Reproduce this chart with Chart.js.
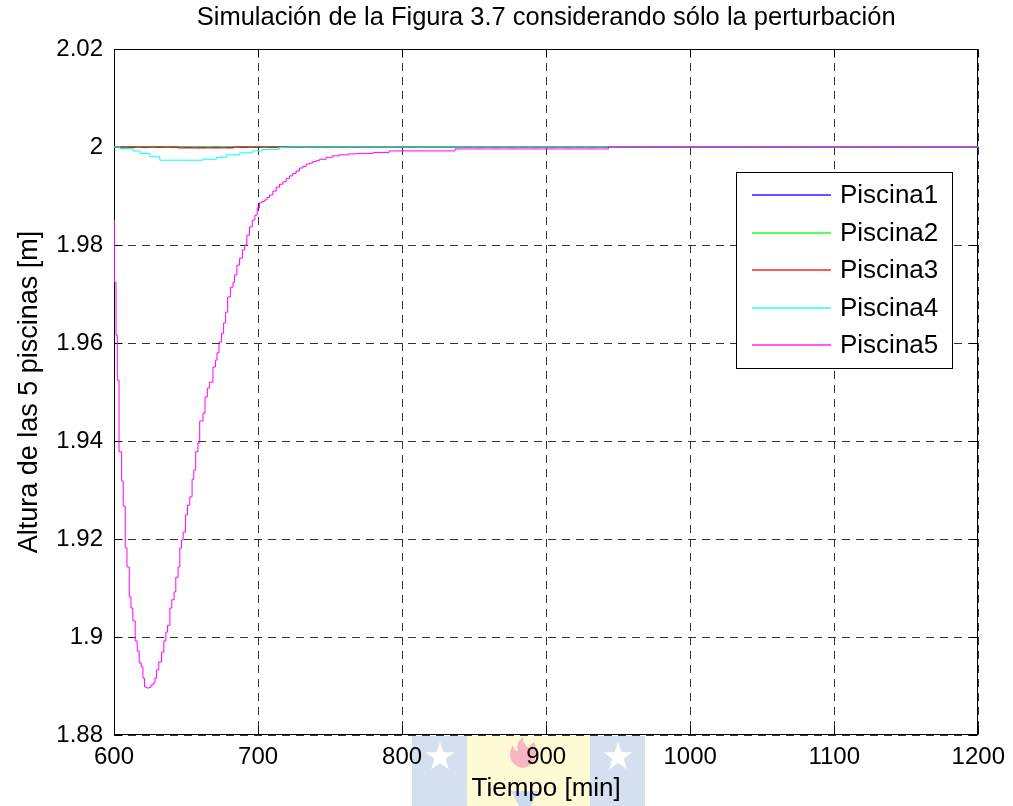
<!DOCTYPE html>
<html>
<head>
<meta charset="utf-8">
<script src="https://cdn.jsdelivr.net/npm/chart.js@4.4.0/dist/chart.umd.min.js"></script>
<style>
  html, body { margin: 0; padding: 0; background: #fff; }
  canvas { display: block; }
</style>
</head>
<body>
<canvas id="chartCanvas" width="1013" height="806"></canvas>
<script>
// nombres, colores y ejes
const seriesNames = ['Piscina1', 'Piscina2', 'Piscina3', 'Piscina4', 'Piscina5'];
const seriesColors = ['#0000ff', '#00ff00', '#ff0000', '#00ffff', '#ff00ff'];
const xTicks = [600, 700, 800, 900, 1000, 1100, 1200];
const yTicks = [1.88, 1.9, 1.92, 1.94, 1.96, 1.98, 2, 2.02];
const yTickLabels = ['1.88', '1.9', '1.92', '1.94', '1.96', '1.98', '2', '2.02'];

// tiempos [min] y alturas [m] (escalones)
const timeP1 = [600, 1200];
const valP1 = [2.0, 2.0];

const timeP2 = [600, 1200];
const valP2 = [2.0, 2.0];

const timeP3 = [600, 644.5, 683.0, 1200];
const valP3 = [2.0, 1.9998, 2.0, 2.0];

const timeP4 = [600, 604.2, 613.1, 618.0, 624.9, 631.8, 659.5, 661.6, 671.1, 678.0, 687.2, 696.2, 703.1, 714.9, 719.5, 1200];
const valP4 = [2.0, 1.9997, 1.9992, 1.9987, 1.9980, 1.9973, 1.9973, 1.9975, 1.9979, 1.9984, 1.9988, 1.9992, 1.9995, 1.9999, 2.0, 2.0];

const timeP5 = [600, 600.3, 601.4, 602.3, 603.5, 605.3, 606.4, 607.8, 609.0, 610.6, 611.8, 613.1, 614.7, 616.1, 617.5, 618.9,
  620.1, 621.2, 622.5, 624.5, 625.6, 627.2, 628.4, 629.6, 631.1, 633.0, 634.6, 636.0, 637.2, 638.8, 640.1, 641.7, 642.9,
  644.5, 645.7, 646.9, 648.0, 649.6, 651.0, 652.6, 654.2, 655.4, 656.7, 658.3, 659.5, 661.8, 663.2, 664.8, 666.2, 668.7,
  670.4, 671.5, 672.9, 674.7, 676.1, 677.5, 678.9, 680.8, 682.6, 683.7, 685.3, 687.2, 689.1, 690.7, 692.2, 694.1, 696.0,
  697.8, 699.4, 701.0, 702.7, 704.5, 706.2, 708.0, 710.3, 712.6, 714.9, 717.2, 719.5, 721.8, 724.1, 726.4, 728.7, 731.0,
  733.4, 735.6, 737.7, 740.1, 742.6, 747.2, 751.8, 756.4, 762.6, 769.1, 780.0, 791.0, 836.7, 943.3, 1200];
const valP5 = [1.9851, 1.9724, 1.9616, 1.9524, 1.9378, 1.9318, 1.9267, 1.9182, 1.9143, 1.9082, 1.9059, 1.9033, 1.8992, 1.8971, 1.8947, 1.8939,
  1.8916, 1.8898, 1.8896, 1.8897, 1.8902, 1.8906, 1.8916, 1.8933, 1.8949, 1.8969, 1.8992, 1.9010, 1.9024, 1.9059, 1.9076, 1.9092, 1.9122,
  1.9143, 1.9182, 1.9198, 1.9214, 1.9249, 1.9269, 1.9286, 1.9322, 1.9341, 1.9378, 1.9396, 1.9441, 1.9457, 1.9490, 1.9508, 1.9520, 1.9551,
  1.9565, 1.9580, 1.9602, 1.9620, 1.9641, 1.9663, 1.9694, 1.9714, 1.9724, 1.9739, 1.9759, 1.9773, 1.9790, 1.9800, 1.9820, 1.9837, 1.9851,
  1.9861, 1.9876, 1.9886, 1.9889, 1.9892, 1.9897, 1.9902, 1.9910, 1.9918, 1.9924, 1.9929, 1.9936, 1.9941, 1.9946, 1.9951, 1.9957, 1.9960,
  1.9965, 1.9967, 1.9970, 1.9972, 1.9975, 1.9979, 1.9982, 1.9984, 1.9986, 1.9987, 1.9989, 1.9992, 1.9996, 2.0, 2.0];

const seriesTimes = [timeP1, timeP2, timeP3, timeP4, timeP5];
const seriesValues = [valP1, valP2, valP3, valP4, valP5];

const fontFamily = "'Liberation Sans', Arial, Helvetica, sans-serif";
const tickFont = { family: fontFamily, size: 24, weight: 'normal' };

function star(ctx, cx, cy, ro, ri) {
    ctx.beginPath();
    for (let k = 0; k < 10; k++) {
        const r = k % 2 === 0 ? ro : ri;
        const a = -Math.PI / 2 + k * Math.PI / 5;
        ctx.lineTo(cx + r * Math.cos(a), cy + r * Math.sin(a));
    }
    ctx.closePath();
    ctx.fill();
}

// fondo blanco y el escudo tenue bajo el eje x
const backdrop = {
    id: 'backdrop',
    beforeDraw(chart) {
        const ctx = chart.ctx;
        ctx.save();
        ctx.fillStyle = '#fff';
        ctx.fillRect(0, 0, chart.width, chart.height);
        ctx.fillStyle = '#d4e0ef';
        ctx.fillRect(412, 736, 55, 70);
        ctx.fillRect(590, 736, 55, 70);
        ctx.fillStyle = '#fefad4';
        ctx.fillRect(467, 736, 123, 70);
        ctx.fillStyle = '#ffffff';
        star(ctx, 440, 757, 15, 6);
        star(ctx, 618, 757, 15, 6);
        ctx.fillStyle = '#f7b6c2';
        ctx.beginPath();
        ctx.moveTo(523, 768);
        ctx.bezierCurveTo(510, 766, 507, 754, 513, 745);
        ctx.bezierCurveTo(514, 751, 517, 752, 518, 750);
        ctx.bezierCurveTo(516, 745, 519, 740, 523, 737);
        ctx.bezierCurveTo(523, 744, 527, 746, 529, 748);
        ctx.bezierCurveTo(530, 745, 532, 743, 534, 742);
        ctx.bezierCurveTo(539, 752, 536, 766, 523, 768);
        ctx.fill();
        ctx.fillStyle = '#cbdaec';
        ctx.beginPath();
        ctx.moveTo(511, 791);
        ctx.lineTo(538, 791);
        ctx.lineTo(531, 806);
        ctx.lineTo(519, 806);
        ctx.closePath();
        ctx.fill();
        ctx.restore();
    }
};

// caja de ejes y marcas hacia adentro, estilo MATLAB (bajo las curvas)
const frame = {
    id: 'frame',
    beforeDatasetsDraw(chart) {
        const {ctx, chartArea: a, scales: {x, y}} = chart;
        const L = Math.round(a.left) + 0.5, R = Math.round(a.right) - 0.5;
        const T = Math.round(a.top) + 0.5, B = Math.round(a.bottom) - 0.5;
        const len = 8;
        ctx.save();
        ctx.strokeStyle = '#000';
        ctx.lineWidth = 1;
        ctx.beginPath();
        xTicks.forEach(v => {
            const px = Math.round(x.getPixelForValue(v)) + 0.5;
            ctx.moveTo(px, B); ctx.lineTo(px, B - len);
            ctx.moveTo(px, T); ctx.lineTo(px, T + len);
        });
        yTicks.forEach(v => {
            const py = Math.round(y.getPixelForValue(v)) + 0.5;
            ctx.moveTo(L, py); ctx.lineTo(L + len, py);
            ctx.moveTo(R, py); ctx.lineTo(R - len, py);
        });
        ctx.stroke();
        ctx.strokeRect(L, T, R - L, B - T);
        ctx.restore();
    }
};

// leyenda en recuadro dentro del area del grafico
const boxLegend = {
    id: 'boxLegend',
    afterDraw(chart) {
        const ctx = chart.ctx;
        const bx = 736, by = 172, bw = 216, bh = 196;
        ctx.save();
        ctx.fillStyle = '#fff';
        ctx.fillRect(bx, by, bw, bh);
        ctx.strokeStyle = '#000';
        ctx.lineWidth = 1;
        ctx.strokeRect(bx + 0.5, by + 0.5, bw, bh);
        ctx.font = '26px ' + fontFamily;
        ctx.textBaseline = 'middle';
        chart.data.datasets.forEach((ds, i) => {
            const ly = Math.round(195 + i * 37.5);
            ctx.globalAlpha = 0.65;
            ctx.strokeStyle = ds.borderColor;
            ctx.lineWidth = 2;
            ctx.beginPath();
            ctx.moveTo(752, ly);
            ctx.lineTo(831, ly);
            ctx.stroke();
            ctx.globalAlpha = 1;
            ctx.fillStyle = '#000';
            ctx.fillText(ds.label, 840, ly + 1);
        });
        ctx.restore();
    }
};

const ctx = document.getElementById('chartCanvas').getContext('2d');
new Chart(ctx, {
    type: 'line',
    data: {
        datasets: seriesNames.map((name, i) => ({
            label: name,
            data: seriesTimes[i].map((t, k) => ({ x: t, y: seriesValues[i][k] })),
            borderColor: seriesColors[i],
            backgroundColor: seriesColors[i],
            borderWidth: 1,
            pointRadius: 0,
            stepped: true,
            fill: false,
            order: seriesNames.length - i
        }))
    },
    options: {
        responsive: false,
        animation: false,
        devicePixelRatio: 1,
        layout: { padding: { top: 0, right: 32, bottom: 0, left: 0 } },
        plugins: {
            legend: { display: false },
            tooltip: { enabled: false },
            title: {
                display: true,
                fullSize: false,
                text: 'Simulación de la Figura 3.7 considerando sólo la perturbación',
                color: '#000',
                font: { family: fontFamily, size: 25.5, weight: 'normal' },
                padding: { top: 3, bottom: 15.4 }
            }
        },
        scales: {
            x: {
                type: 'linear',
                min: 600,
                max: 1200,
                afterBuildTicks: s => { s.ticks = xTicks.map(v => ({ value: v })); },
                afterFit: s => { s.height = 71; },
                ticks: { color: '#000', font: tickFont, padding: 8, maxRotation: 0, autoSkip: false, callback: v => String(v) },
                grid: { color: '#333', lineWidth: 1, drawTicks: false },
                border: { display: false, dash: [8, 6] },
                title: { display: true, text: 'Tiempo [min]', color: '#000', font: { family: fontFamily, size: 26, weight: 'normal' }, padding: { top: 0, bottom: 1.4 } }
            },
            y: {
                type: 'linear',
                min: 1.88,
                max: 2.02,
                afterBuildTicks: s => { s.ticks = yTicks.map(v => ({ value: v })); },
                afterFit: s => { s.width = 114; },
                ticks: { color: '#000', font: tickFont, padding: 11, autoSkip: false, callback: (v, i) => yTickLabels[i] },
                grid: { color: '#333', lineWidth: 1, drawTicks: false },
                border: { display: false, dash: [8, 6] },
                title: { display: true, text: 'Altura de las 5 piscinas [m]', color: '#000', font: { family: fontFamily, size: 27, weight: 'normal' }, padding: { top: 13.8, bottom: 0 } }
            }
        }
    },
    plugins: [backdrop, frame, boxLegend]
});
</script>
</body>
</html>
